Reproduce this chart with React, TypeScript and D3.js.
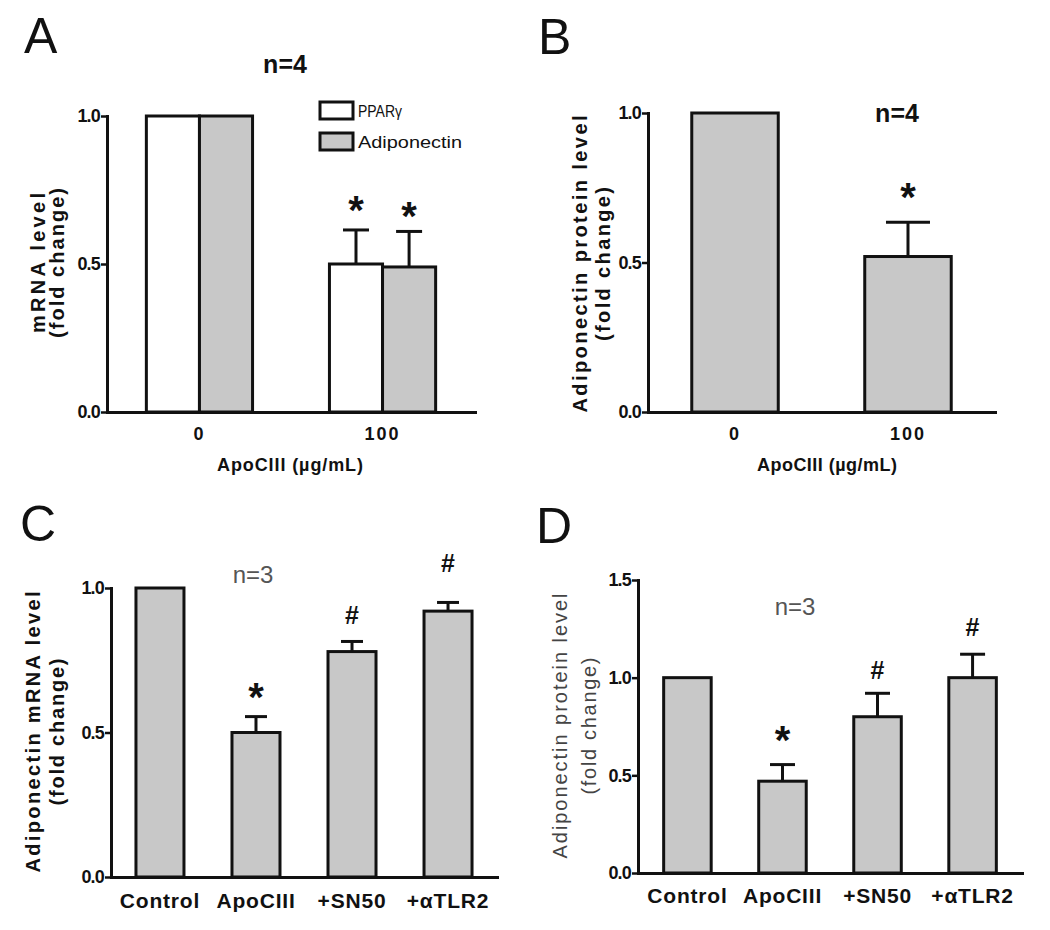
import { useEffect, useRef } from 'react';
import * as d3 from 'd3';

// ---- data -----------------------------------------------------------------
const doseLabels = ['0', '100'];
const seriesNamesA = ['PPARγ', 'Adiponectin'];
const pparMrnaA = [1.0, 0.5];
const pparMrnaAErr = [0, 0.115];
const pparMarksA = ['', '*'];
const pparMarkAtA = [0, 0.71];
const adipoMrnaA = [1.0, 0.49];
const adipoMrnaAErr = [0, 0.12];
const adipoMarksA = ['', '*'];
const adipoMarkAtA = [0, 0.69];

const adipoProteinB = [1.0, 0.52];
const adipoProteinBErr = [0, 0.115];
const marksB = ['', '*'];
const markAtB = [0, 0.745];

const treatments = ['Control', 'ApoCIII', '+SN50', '+αTLR2'];
const adipoMrnaC = [1.0, 0.5, 0.78, 0.92];
const adipoMrnaCErr = [0, 0.055, 0.035, 0.03];
const marksC = ['', '*', '#', '#'];
const markAtC = [0, 0.65, 0.905, 1.085];

const adipoProteinD = [1.0, 0.47, 0.8, 1.0];
const adipoProteinDErr = [0, 0.085, 0.12, 0.12];
const marksD = ['', '*', '#', '#'];
const markAtD = [0, 0.72, 1.04, 1.26];

const yTicksFold = [0, 0.5, 1.0];
const yTicksD = [0, 0.5, 1.0, 1.5];

// ---- style -----------------------------------------------------------------
const W = 1050;
const H = 930;
const FONT = '"Liberation Sans", Arial, Helvetica, sans-serif';
const INK = '#111';
const BAR_GRAY = '#c8c8c8';

interface Series {
  name: string;
  values: number[];
  errors: number[];
  fill: string;
  marks: string[];
  markAt: number[];
}

interface PanelSpec {
  letter: string;
  letterX: number;
  letterY: number;
  left: number;
  right: number;
  top: number;
  bottom: number;
  yMax: number;
  yTicks: number[];
  categories: string[];
  padIn: number;
  padOut: number;
  series: Series[];
  capW: number;
  tickFont: number;
  tickPad: number;
  tickSpacing: number;
  nText: string;
  nX: number;
  nY: number;
  nBold: boolean;
  yLines: string[];
  yLineX: number[];
  yLineLen: number[];
  yCenter: number;
  yBold: boolean;
  xTitle?: string;
  xTitleX?: number;
  xTitleY?: number;
  xTitleLen?: number;
}

type Sel = d3.Selection<SVGSVGElement, unknown, null, undefined>;

function drawPanel(svg: Sel, p: PanelSpec) {
  const g = svg.append('g').attr('font-family', FONT);

  const x = d3
    .scaleBand<string>()
    .domain(p.categories)
    .range([p.left, p.right])
    .paddingInner(p.padIn)
    .paddingOuter(p.padOut);
  const sub = d3
    .scaleBand<string>()
    .domain(p.series.map((s) => s.name))
    .range([0, x.bandwidth()]);
  const y = d3.scaleLinear().domain([0, p.yMax]).range([p.bottom, p.top]);

  p.series.forEach((s) => {
    const rows = p.categories.map((c, i) => ({
      c,
      v: s.values[i],
      e: s.errors[i],
      m: s.marks[i],
      at: s.markAt[i],
    }));
    type Row = (typeof rows)[number];
    const cx = (d: Row) => (x(d.c) || 0) + (sub(s.name) || 0) + sub.bandwidth() / 2;

    g.append('g')
      .selectAll('rect')
      .data(rows)
      .join('rect')
      .attr('x', (d) => (x(d.c) || 0) + (sub(s.name) || 0))
      .attr('y', (d) => y(d.v))
      .attr('width', sub.bandwidth())
      .attr('height', (d) => y(0) - y(d.v))
      .attr('fill', s.fill)
      .attr('stroke', INK)
      .attr('stroke-width', 3);

    // upper error bars only
    const eb = g
      .append('g')
      .attr('stroke', INK)
      .attr('stroke-width', 3)
      .selectAll('g')
      .data(rows.filter((d) => d.e > 0))
      .join('g');
    eb.append('line')
      .attr('x1', cx)
      .attr('x2', cx)
      .attr('y1', (d) => y(d.v))
      .attr('y2', (d) => y(d.v + d.e));
    eb.append('line')
      .attr('x1', (d) => cx(d) - p.capW / 2)
      .attr('x2', (d) => cx(d) + p.capW / 2)
      .attr('y1', (d) => y(d.v + d.e))
      .attr('y2', (d) => y(d.v + d.e));

    g.append('g')
      .selectAll('text')
      .data(rows.filter((d) => d.m))
      .join('text')
      .attr('x', cx)
      .attr('y', (d) => y(d.at) + (d.m === '*' ? 22 : 9))
      .attr('text-anchor', 'middle')
      .attr('font-size', (d) => (d.m === '*' ? 40 : 25))
      .attr('font-weight', 'bold')
      .attr('fill', INK)
      .text((d) => d.m);
  });

  // y axis
  const ya = g
    .append('g')
    .attr('transform', `translate(${p.left},0)`)
    .call(
      d3
        .axisLeft(y)
        .tickValues(p.yTicks)
        .tickFormat(d3.format('.1f'))
        .tickSize(6)
        .tickSizeOuter(0)
        .tickPadding(1)
    );
  ya.attr('font-family', FONT);
  ya.select('.domain').attr('stroke', INK).attr('stroke-width', 3).attr('stroke-linecap', 'square');
  ya.selectAll('.tick line').attr('stroke', INK).attr('stroke-width', 2.5);
  ya.selectAll('.tick text')
    .attr('fill', INK)
    .attr('font-size', 18)
    .attr('font-weight', 'bold')
    .attr('letter-spacing', -0.8);

  // x axis
  const xa = g
    .append('g')
    .attr('transform', `translate(0,${p.bottom})`)
    .call(d3.axisBottom(x).tickSize(0).tickSizeOuter(0).tickPadding(p.tickPad));
  xa.attr('font-family', FONT);
  xa.select('.domain').attr('stroke', INK).attr('stroke-width', 3).attr('stroke-linecap', 'square');
  xa.selectAll('.tick text')
    .attr('fill', INK)
    .attr('font-size', p.tickFont)
    .attr('font-weight', 'bold')
    .attr('letter-spacing', p.tickSpacing);

  // panel letter
  g.append('text')
    .attr('x', p.letterX)
    .attr('y', p.letterY)
    .attr('font-size', 50)
    .attr('fill', INK)
    .text(p.letter);

  // n label
  g.append('text')
    .attr('x', p.nX)
    .attr('y', p.nY)
    .attr('text-anchor', 'middle')
    .attr('font-size', p.nBold ? 25 : 24)
    .attr('font-weight', p.nBold ? 'bold' : 'normal')
    .attr('fill', p.nBold ? INK : '#555')
    .text(p.nText);

  // y title, two rotated lines
  p.yLines.forEach((line, i) => {
    g.append('text')
      .attr('transform', `translate(${p.yLineX[i]},${p.yCenter}) rotate(-90)`)
      .attr('text-anchor', 'middle')
      .attr('font-size', 20)
      .attr('font-weight', p.yBold ? 'bold' : 'normal')
      .attr('fill', p.yBold ? INK : '#444')
      .attr('textLength', p.yLineLen[i])
      .attr('lengthAdjust', 'spacing')
      .text(line);
  });

  if (p.xTitle) {
    g.append('text')
      .attr('x', p.xTitleX!)
      .attr('y', p.xTitleY!)
      .attr('text-anchor', 'middle')
      .attr('font-size', 18)
      .attr('font-weight', 'bold')
      .attr('fill', INK)
      .attr('textLength', p.xTitleLen!)
      .attr('lengthAdjust', 'spacing')
      .text(p.xTitle);
  }

  return { g, x, y };
}

export default function App() {
  const svgRef = useRef<SVGSVGElement>(null);

  useEffect(() => {
    if (!svgRef.current) return;
    const svg = d3.select(svgRef.current);
    svg.selectAll('*').remove();

    const seriesA: Series[] = [
      { name: seriesNamesA[0], values: pparMrnaA, errors: pparMrnaAErr, fill: '#fff', marks: pparMarksA, markAt: pparMarkAtA },
      { name: seriesNamesA[1], values: adipoMrnaA, errors: adipoMrnaAErr, fill: BAR_GRAY, marks: adipoMarksA, markAt: adipoMarkAtA },
    ];

    const a = drawPanel(svg, {
      letter: 'A', letterX: 24, letterY: 53,
      left: 107, right: 475, top: 116, bottom: 412, yMax: 1.0, yTicks: yTicksFold,
      categories: doseLabels, padIn: 0.42, padOut: 0.215,
      series: seriesA, capW: 26,
      tickFont: 18, tickPad: 15, tickSpacing: 2,
      nText: 'n=4', nX: 285, nY: 73, nBold: true,
      yLines: ['mRNA level', '(fold change)'], yLineX: [45, 64], yLineLen: [140, 150], yCenter: 263, yBold: true,
      xTitle: 'ApoCIII (µg/mL)', xTitleX: 290, xTitleY: 471, xTitleLen: 146,
    });

    // legend for panel A
    const leg = a.g.append('g');
    seriesA.forEach((s, i) => {
      const top = 102 + i * 31;
      leg.append('rect')
        .attr('x', 320).attr('y', top).attr('width', 33).attr('height', 17)
        .attr('fill', s.fill).attr('stroke', INK).attr('stroke-width', 3);
      leg.append('text')
        .attr('x', 358).attr('y', top + 15)
        .attr('font-size', 17).attr('fill', INK)
        .attr('textLength', i === 0 ? 44 : 104).attr('lengthAdjust', 'spacingAndGlyphs')
        .text(s.name);
    });

    drawPanel(svg, {
      letter: 'B', letterX: 538, letterY: 54,
      left: 648, right: 995, top: 113, bottom: 412, yMax: 1.0, yTicks: yTicksFold,
      categories: doseLabels, padIn: 0.5, padOut: 0.253,
      series: [{ name: 'Adiponectin', values: adipoProteinB, errors: adipoProteinBErr, fill: BAR_GRAY, marks: marksB, markAt: markAtB }],
      capW: 44,
      tickFont: 18, tickPad: 15, tickSpacing: 2,
      nText: 'n=4', nX: 897, nY: 122, nBold: true,
      yLines: ['Adiponectin protein level', '(fold change)'], yLineX: [587, 610], yLineLen: [297, 154], yCenter: 264, yBold: true,
      xTitle: 'ApoCIII (µg/mL)', xTitleX: 827, xTitleY: 471, xTitleLen: 140,
    });

    drawPanel(svg, {
      letter: 'C', letterX: 20, letterY: 541,
      left: 111, right: 497, top: 588, bottom: 877, yMax: 1.0, yTicks: yTicksFold,
      categories: treatments, padIn: 0.5, padOut: 0.26,
      series: [{ name: 'Adiponectin', values: adipoMrnaC, errors: adipoMrnaCErr, fill: BAR_GRAY, marks: marksC, markAt: markAtC }],
      capW: 22,
      tickFont: 21, tickPad: 16, tickSpacing: 0.8,
      nText: 'n=3', nX: 253, nY: 583, nBold: false,
      yLines: ['Adiponectin mRNA level', '(fold change)'], yLineX: [40, 64], yLineLen: [281, 147], yCenter: 732, yBold: true,
    });

    drawPanel(svg, {
      letter: 'D', letterX: 536, letterY: 543,
      left: 638, right: 1022, top: 580, bottom: 873, yMax: 1.5, yTicks: yTicksD,
      categories: treatments, padIn: 0.5, padOut: 0.27,
      series: [{ name: 'Adiponectin', values: adipoProteinD, errors: adipoProteinDErr, fill: BAR_GRAY, marks: marksD, markAt: markAtD }],
      capW: 25,
      tickFont: 21, tickPad: 15, tickSpacing: 0.8,
      nText: 'n=3', nX: 795, nY: 615, nBold: false,
      yLines: ['Adiponectin protein level', '(fold change)'], yLineX: [567, 596], yLineLen: [265, 137], yCenter: 726, yBold: false,
    });
  }, []);

  return (
    <svg
      ref={svgRef}
      width={W}
      height={H}
      style={{ position: 'absolute', left: 0, top: 0, background: '#fff' }}
    />
  );
}
